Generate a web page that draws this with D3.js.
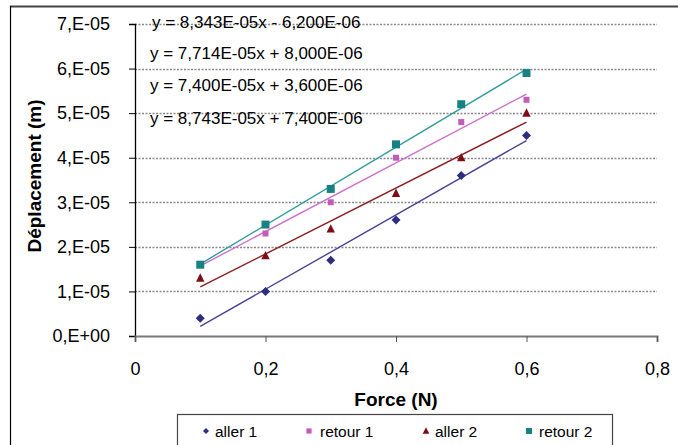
<!DOCTYPE html>
<html><head><meta charset="utf-8">
<script src="https://cdn.jsdelivr.net/npm/d3@7"></script>
<style>
html,body{margin:0;padding:0;background:#fff;}
svg{display:block;font-family:"Liberation Sans",Arial,sans-serif;}
</style></head>
<body><svg id="c" width="678" height="445"></svg>
<script>
const forces = [0.1, 0.2, 0.3, 0.4, 0.5, 0.6];
const aller1 = [0.4e-5, 1.0e-5, 1.7e-5, 2.6e-5, 3.6e-5, 4.5e-5];
const retour1 = [1.6e-5, 2.3e-5, 3.0e-5, 4.0e-5, 4.8e-5, 5.3e-5];
const aller2 = [1.3e-5, 1.8e-5, 2.4e-5, 3.2e-5, 4.0e-5, 5.0e-5];
const retour2 = [1.6e-5, 2.5e-5, 3.3e-5, 4.3e-5, 5.2e-5, 5.9e-5];
const seriesNames = ["aller 1", "retour 1", "aller 2", "retour 2"];
const equations = [
  "y = 8,343E-05x - 6,200E-06",
  "y = 7,714E-05x + 8,000E-06",
  "y = 7,400E-05x + 3,600E-06",
  "y = 8,743E-05x + 7,400E-06"
];
const yTicks = [0, 1e-5, 2e-5, 3e-5, 4e-5, 5e-5, 6e-5, 7e-5];
const yTickLabels = ["0,E+00", "1,E-05", "2,E-05", "3,E-05", "4,E-05", "5,E-05", "6,E-05", "7,E-05"];
const xTicks = [0, 0.2, 0.4, 0.6, 0.8];
const xTickLabels = ["0", "0,2", "0,4", "0,6", "0,8"];

const series = [
  {name: seriesNames[0], values: aller1, color: "#2e2e7e", line: "#4a4496", shape: "diamond", size: 4.5, lsize: 3},
  {name: seriesNames[1], values: retour1, color: "#c25cb8", line: "#cc72cc", shape: "square", size: 3, lsize: 2.6},
  {name: seriesNames[2], values: aller2, color: "#7e0c14", line: "#8c2020", shape: "triangle", size: 4.2, lsize: 3.3},
  {name: seriesNames[3], values: retour2, color: "#188282", line: "#2e9c9c", shape: "square", size: 4, lsize: 3}
];

const svg = d3.select("#c");
const x = d3.scaleLinear().domain([0, 0.8]).range([135, 657]);
const y = d3.scaleLinear().domain([0, 7e-5]).range([336, 24]);

// outer frame
svg.append("line").attr("x1", 10).attr("x2", 678).attr("y1", 6.5).attr("y2", 6.5)
  .attr("stroke", "#444").attr("stroke-width", 2);
svg.append("line").attr("x1", 10.5).attr("x2", 10.5).attr("y1", 6).attr("y2", 445)
  .attr("stroke", "#000").attr("stroke-width", 1.2);

// gridlines
svg.append("g").selectAll("line").data(yTicks.slice(1)).join("line")
  .attr("x1", x(0)).attr("x2", x(0.8))
  .attr("y1", d => Math.round(y(d)) + 0.5).attr("y2", d => Math.round(y(d)) + 0.5)
  .attr("stroke", "#8a8a8a").attr("stroke-width", 1.3).attr("stroke-dasharray", "2,1.5");

// axes
const yAxis = svg.append("g").attr("transform", `translate(${x(0)},0)`)
  .call(d3.axisLeft(y).tickValues(yTicks).tickFormat((d, i) => yTickLabels[i]).tickSize(6).tickPadding(19));
yAxis.select(".domain").attr("stroke", "#000").attr("stroke-width", 1.3);
yAxis.selectAll(".tick line").attr("stroke", "#000");
yAxis.selectAll("text").attr("font-size", 18).attr("fill", "#000")
  .attr("font-family", "Liberation Sans, Arial, sans-serif");

const xAxis = svg.append("g").attr("transform", `translate(0,${y(0)})`)
  .call(d3.axisBottom(x).tickValues(xTicks).tickFormat((d, i) => xTickLabels[i]).tickSize(6).tickPadding(20));
xAxis.select(".domain").attr("stroke", "#7a7a7a").attr("stroke-width", 2);
xAxis.selectAll(".tick line").attr("stroke", "#555");
xAxis.selectAll("text").attr("font-size", 18).attr("fill", "#000")
  .attr("font-family", "Liberation Sans, Arial, sans-serif");

// axis titles
svg.append("text").attr("x", 396).attr("y", 406).attr("text-anchor", "middle")
  .attr("font-size", 19).attr("font-weight", "bold").text("Force (N)");
svg.append("text").attr("transform", "translate(41,176) rotate(-90)").attr("text-anchor", "middle")
  .attr("font-size", 19).attr("font-weight", "bold").text("Déplacement (m)");

// trendlines (least-squares fit of each series)
function fit(xs, ys) {
  const mx = d3.mean(xs), my = d3.mean(ys);
  const sxy = d3.sum(xs, (v, i) => (v - mx) * (ys[i] - my));
  const sxx = d3.sum(xs, v => (v - mx) * (v - mx));
  const a = sxy / sxx;
  return {a, b: my - a * mx};
}
const line = d3.line().x(d => x(d[0])).y(d => y(d[1]));
series.forEach(s => {
  const f = fit(forces, s.values);
  const ends = [d3.min(forces), d3.max(forces)].map(v => [v, f.a * v + f.b]);
  svg.append("path").attr("d", line(ends)).attr("fill", "none")
    .attr("stroke", s.line).attr("stroke-width", 1.4);
});

// markers (r = half-size in px)
function symPath(shape, r) {
  if (shape === "diamond") return `M0,${-r}L${r},0L0,${r}L${-r},0Z`;
  if (shape === "square") return `M${-r},${-r}H${r}V${r}H${-r}Z`;
  return `M0,${-r * 1.15}L${r},${r * 0.85}H${-r}Z`;
}
series.forEach(s => {
  svg.append("g").selectAll("path").data(forces.map((f, i) => [f, s.values[i]])).join("path")
    .attr("transform", d => `translate(${x(d[0])},${y(d[1])})`)
    .attr("d", symPath(s.shape, s.size)).attr("fill", s.color);
});

// equation labels
svg.append("g").selectAll("text").data(equations).join("text")
  .attr("x", (d, i) => i === 0 ? 152 : 150)
  .attr("y", (d, i) => [28, 59, 91, 124][i])
  .attr("font-size", 17).attr("fill", "#000").text(d => d);

// legend
svg.append("rect").attr("x", 177.5).attr("y", 414.5).attr("width", 435).attr("height", 34)
  .attr("fill", "#fff").attr("stroke", "#444").attr("stroke-width", 1.2);
const legX = [206, 309, 426, 529];
const legT = [215, 320, 435, 539];
const lg = svg.append("g").selectAll("g").data(series).join("g");
lg.append("path").attr("transform", (d, i) => `translate(${legX[i]},431)`)
  .attr("d", d => symPath(d.shape, d.lsize)).attr("fill", d => d.color);
lg.append("text").attr("x", (d, i) => legT[i]).attr("y", 436.5)
  .attr("font-size", 15.5).attr("fill", "#000").text(d => d.name);
</script></body></html>
